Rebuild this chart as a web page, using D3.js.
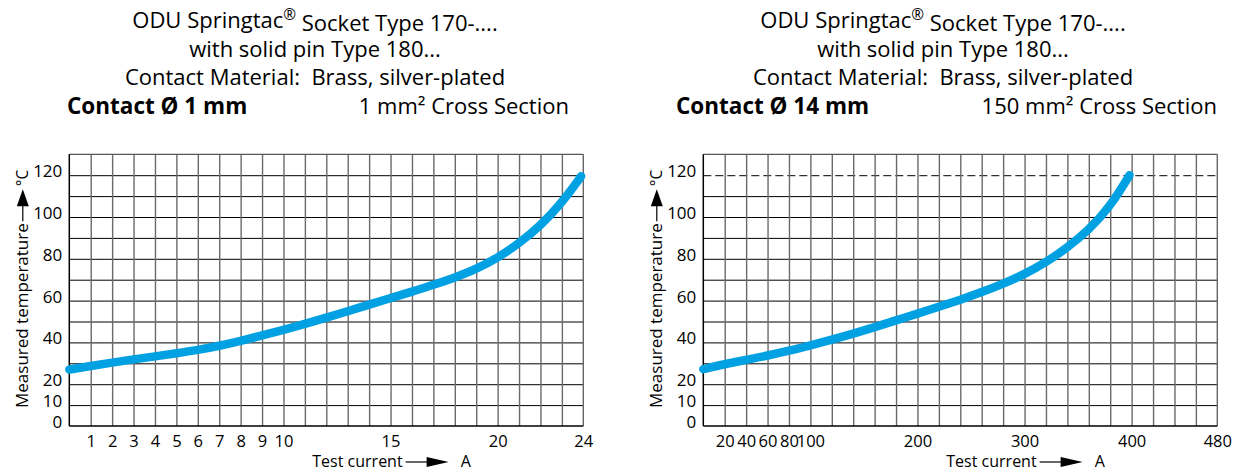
<!DOCTYPE html>
<html><head><meta charset="utf-8">
<script src="https://cdn.jsdelivr.net/npm/d3@7"></script>
<style>
body{margin:0;background:#fff}
svg{display:block}
text{font-family:"Open Sans",sans-serif;fill:#000;white-space:pre}
</style>
</head><body>
<svg id="chart" width="1239" height="473"></svg>
<script>
// ---------- data ----------
const leftCurrent = [0,1,2,3,4,5,6,7,8,9,10,11,12,13,14,15,16,17,18,19,20,21,22,23,23.9];
const leftTemp    = [27,28.7,30.3,31.9,33.3,34.8,36.4,38.3,40.7,43.3,46,48.8,51.8,54.9,58.1,61.2,64.3,67.5,71,75,80.5,87.3,95.8,106.8,119.5];
const rightCurrent = [0,20,40,60,80,100,120,140,160,180,200,220,240,260,280,300,320,340,360,380,398];
const rightTemp    = [27.2,29.6,31.6,33.7,36,38.6,41.3,44.2,47.3,50.5,53.8,57,60.4,64,68,72.6,78.3,85.3,93.8,105,120];

const leftXTicks  = [1,2,3,4,5,6,7,8,9,10,15,20,24];
const rightXTicks = [20,40,60,80,100,200,300,400,480];
const yTicks      = [0,10,20,40,60,80,100,120];
const yGrid       = [10,20,30,40,50,60,70,80,90,100,110,120];
const leftXGrid   = [1,2,3,4,5,6,7,8,9,10,11,12,13,14,15,16,17,18,19,20,21,22,23];
const rightXGrid  = [20,40,60,80,100,120,140,160,180,200,220,240,260,280,300,320,340,360,380,400,420,440,460];
const rightDashed = [120];

const titleLines = ["ODU Springtac® Socket Type 170-....", "with solid pin Type 180...", "Contact Material:  Brass, silver-plated"];
const leftContact  = "Contact Ø 1 mm";
const rightContact = "Contact Ø 14 mm";
const leftSection  = "1 mm² Cross Section";
const rightSection = "150 mm² Cross Section";
const yTitle = "Measured temperature";
const yUnit = "°C";
const xTitle = "Test current";
const xUnit = "A";

// ---------- layout ----------
const svg = d3.select("#chart");
const TOP = 154.3, BOTTOM = 426, W = 514;
const BLUE = "#00a1e3";

function addRich(sel, str) {
  const parts = str.split("®");
  parts.forEach((p, i) => {
    const t = sel.append("tspan").text(p);
    if (i > 0) t.attr("dy", "0.5em");
    if (i < parts.length - 1) {
      sel.append("tspan").attr("font-size", "0.7em").attr("dy", "-0.5em").text("®");
    }
  });
}

function drawPanel(p) {
  const g = svg.append("g");
  const x = d3.scaleLinear().domain([0, p.xMax]).range([p.left, p.left + W]);
  const y = d3.scaleLinear().domain([0, 130]).range([BOTTOM, TOP]);

  // horizontal grid (black)
  const hg = g.append("g").attr("transform", `translate(${p.left},0)`)
    .call(d3.axisLeft(y).tickValues(yGrid.filter(v => !p.dashed.includes(v))).tickSize(-W).tickFormat(""));
  hg.select(".domain").remove();
  hg.selectAll("line").attr("stroke", "#000").attr("stroke-width", 1);

  // dashed reference line
  if (p.dashed.length) {
    const dg = g.append("g").attr("transform", `translate(${p.left},0)`)
      .call(d3.axisLeft(y).tickValues(p.dashed).tickSize(-W).tickFormat(""));
    dg.select(".domain").remove();
    dg.selectAll("line").attr("stroke", "#000").attr("stroke-width", 1).attr("stroke-dasharray", "8,4");
  }

  // vertical grid (grey)
  const vg = g.append("g").attr("transform", `translate(0,${BOTTOM})`)
    .call(d3.axisBottom(x).tickValues(p.xGrid).tickSize(-(BOTTOM - TOP)).tickFormat(""));
  vg.select(".domain").remove();
  vg.selectAll("line").attr("stroke", "#6a6a6a").attr("stroke-width", 1.4);

  // frame
  g.append("line").attr("x1", x(0)).attr("x2", x(p.xMax)).attr("y1", y(130)).attr("y2", y(130)).attr("stroke", "#555").attr("stroke-width", 1.3);
  g.append("line").attr("x1", x(p.xMax)).attr("x2", x(p.xMax)).attr("y1", y(0)).attr("y2", y(130)).attr("stroke", "#666").attr("stroke-width", 1.4);
  g.append("line").attr("x1", x(0)).attr("x2", x(p.xMax)).attr("y1", y(0)).attr("y2", y(0)).attr("stroke", "#000").attr("stroke-width", 1.5);
  g.append("line").attr("x1", x(0)).attr("x2", x(0)).attr("y1", y(0)).attr("y2", y(130)).attr("stroke", "#000").attr("stroke-width", 1.5);

  // tick labels
  const xa = g.append("g").attr("transform", `translate(0,${BOTTOM})`)
    .call(d3.axisBottom(x).tickValues(p.xTicks).tickSize(0).tickPadding(9));
  xa.select(".domain").remove();
  xa.attr("font-family", null).attr("font-size", null);
  xa.selectAll("text").attr("font-size", 16.5).attr("fill", "#000");

  const ya = g.append("g").attr("transform", `translate(${p.left},0)`)
    .call(d3.axisLeft(y).tickValues(yTicks).tickSize(0).tickPadding(7));
  ya.select(".domain").remove();
  ya.attr("font-family", null).attr("font-size", null);
  ya.selectAll("text").attr("font-size", 17).attr("fill", "#000").attr("y", -4);

  // curve
  const pts = p.cur.map((c, i) => [c, p.temp[i]]);
  g.append("path").datum(pts)
    .attr("fill", "none").attr("stroke", BLUE).attr("stroke-width", 8.5)
    .attr("stroke-linecap", "round")
    .attr("d", d3.line().x(d => x(d[0])).y(d => y(d[1])).curve(d3.curveBasis));

  // titles
  titleLines.forEach((t, i) => {
    const tx = g.append("text").attr("x", p.titleCx).attr("y", 28 + i * 28.5)
      .attr("text-anchor", "middle").attr("font-size", 22);
    addRich(tx, t);
  });
  g.append("text").attr("x", p.contactX).attr("y", 113.5).attr("font-size", 22.5)
    .attr("font-weight", "bold").text(p.contact);
  g.append("text").attr("x", p.sectionR).attr("y", 113.5).attr("font-size", 22)
    .attr("text-anchor", "end").text(p.section);

  // y axis title (rotated)
  const yt = g.append("g").attr("transform", `translate(${p.left - 41},0) rotate(-90)`);
  const startX = -(BOTTOM - 18);
  const t1 = yt.append("text").attr("x", startX).attr("y", 0).attr("font-size", 17).text(yTitle);
  const len1 = t1.node().getComputedTextLength();
  const e1 = startX + len1 + 2;
  yt.append("line").attr("x1", e1).attr("x2", e1 + 16).attr("y1", -5.5).attr("y2", -5.5).attr("stroke", "#000").attr("stroke-width", 1.2);
  yt.append("path").attr("d", `M${e1 + 15},-11.5 L${e1 + 32},-5.5 L${e1 + 15},0.5 Z`).attr("fill", "#000");
  yt.append("text").attr("x", e1 + 35).attr("y", 0).attr("font-size", 15.5).text(yUnit);

  // x axis title
  const xtX = p.left + 243, xtY = 467;
  const t2 = g.append("text").attr("x", xtX).attr("y", xtY).attr("font-size", 16).text(xTitle);
  const len2 = t2.node().getComputedTextLength();
  const e2 = xtX + len2 + 3;
  g.append("line").attr("x1", e2).attr("x2", e2 + 22).attr("y1", xtY - 5).attr("y2", xtY - 5).attr("stroke", "#000").attr("stroke-width", 1.2);
  g.append("path").attr("d", `M${e2 + 21},${xtY - 10} L${e2 + 43},${xtY - 5} L${e2 + 21},${xtY} Z`).attr("fill", "#000");
  g.append("text").attr("x", e2 + 55).attr("y", xtY).attr("font-size", 16).text(xUnit);
}

drawPanel({left: 69.3, xMax: 24, xTicks: leftXTicks, xGrid: leftXGrid, dashed: [],
  cur: leftCurrent, temp: leftTemp, titleCx: 315, contactX: 67, sectionR: 569,
  contact: leftContact, section: leftSection});
drawPanel({left: 703.3, xMax: 480, xTicks: rightXTicks, xGrid: rightXGrid, dashed: rightDashed,
  cur: rightCurrent, temp: rightTemp, titleCx: 943, contactX: 676, sectionR: 1217,
  contact: rightContact, section: rightSection});
</script>
</body></html>
